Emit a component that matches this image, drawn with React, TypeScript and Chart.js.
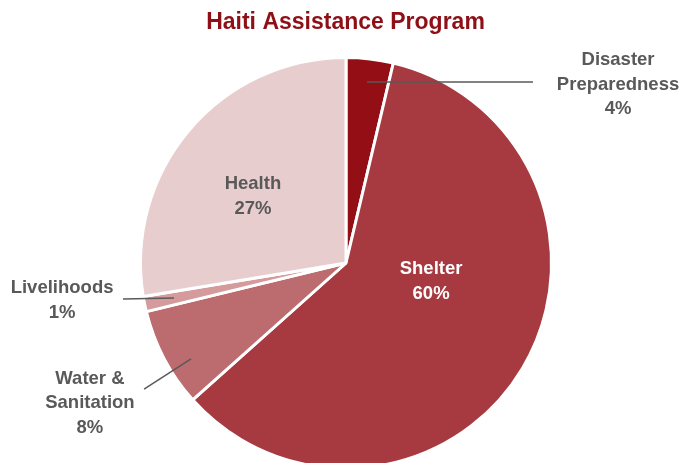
import React, { useEffect, useRef } from "react";
import { Chart, registerables } from "chart.js";

Chart.register(...registerables);

const TITLE = "Haiti Assistance Program";
const categories = ["Disaster Preparedness", "Shelter", "Water & Sanitation", "Livelihoods", "Health"];
const values = [3.7, 59.7, 7.8, 1.2, 27.6];
const percentLabels = ["4%", "60%", "8%", "1%", "27%"];
const labelLines = [["Disaster", "Preparedness"], ["Shelter"], ["Water &", "Sanitation"], ["Livelihoods"], ["Health"]];
const colors = ["#930E15", "#A63A40", "#BC6B6E", "#D49A9C", "#E8CDCF"];

// label placement relative to pie centre, in units of the outer radius
const labelPlacement = [
  { tx: 1.327, ty: -0.876, color: "#595959", leader: [0.102, -0.883, 0.912, -0.883] },
  { tx: 0.415, ty: 0.085, color: "#ffffff", leader: null },
  { tx: -1.249, ty: 0.678, color: "#595959", leader: [-0.756, 0.468, -0.985, 0.615] },
  { tx: -1.385, ty: 0.178, color: "#595959", leader: [-0.839, 0.171, -1.088, 0.176] },
  { tx: -0.454, ty: -0.329, color: "#595959", leader: null },
];

const FONT = '"Liberation Sans", Arial, Helvetica, sans-serif';

const labelPlugin = {
  id: "pieLabels",
  afterDraw(chart: any) {
    const ctx = chart.ctx;
    const meta = chart.getDatasetMeta(0);
    const arc0 = meta.data[0];
    if (!arc0) return;
    const cx = arc0.x;
    const cy = arc0.y;
    const R = 205;
    ctx.save();
    // title
    ctx.fillStyle = "#8E1016";
    ctx.font = `bold 23px ${FONT}`;
    ctx.textAlign = "center";
    ctx.textBaseline = "middle";
    ctx.fillText(TITLE, chart.width / 2 + 3, 23);

    const lh = 24.5;
    labelPlacement.forEach((p, i) => {
      const lines = [...labelLines[i], percentLabels[i]];
      if (p.leader) {
        ctx.strokeStyle = "#595959";
        ctx.lineWidth = 1.5;
        ctx.beginPath();
        ctx.moveTo(cx + p.leader[0] * R, cy + p.leader[1] * R);
        ctx.lineTo(cx + p.leader[2] * R, cy + p.leader[3] * R);
        ctx.stroke();
      }
      ctx.fillStyle = p.color;
      ctx.font = `bold 18.5px ${FONT}`;
      ctx.textAlign = "center";
      ctx.textBaseline = "middle";
      const x = cx + p.tx * R;
      const y0 = cy + p.ty * R - ((lines.length - 1) * lh) / 2;
      lines.forEach((t, k) => ctx.fillText(t, x, y0 + k * lh + 1));
    });
    ctx.restore();
  },
};

export default function App() {
  const ref = useRef<HTMLCanvasElement | null>(null);
  useEffect(() => {
    if (!ref.current) return;
    const chart = new Chart(ref.current, {
      type: "pie",
      data: {
        labels: categories,
        datasets: [
          {
            data: values,
            backgroundColor: colors,
            borderColor: "#ffffff",
            borderWidth: 3,
            hoverOffset: 0,
          },
        ],
      },
      options: {
        animation: false,
        responsive: true,
        maintainAspectRatio: false,
        layout: { padding: { left: 139, right: 132, top: 56, bottom: 10 } },
        plugins: {
          legend: { display: false },
          tooltip: { enabled: false },
          title: { display: false },
        },
      },
      plugins: [labelPlugin],
    });
    return () => chart.destroy();
  }, []);
  return (
    <div style={{ position: "fixed", left: 0, top: 0, width: 685, height: 463, overflow: "hidden", background: "#fff" }}>
      <div style={{ position: "relative", width: 685, height: 480 }}>
        <canvas ref={ref} style={{ display: "block" }} />
      </div>
    </div>
  );
}
